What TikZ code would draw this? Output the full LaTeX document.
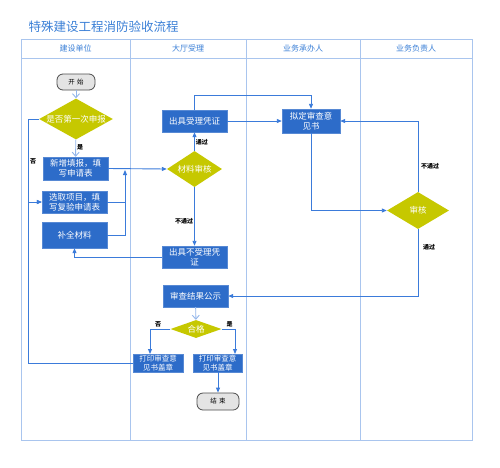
\documentclass[tikz,border=0pt]{standalone}
\usepackage{fontspec}
\setmainfont{Noto Sans CJK SC}
\usetikzlibrary{shapes.geometric,arrows.meta}
\definecolor{boxblue}{HTML}{2D6CC9}
\definecolor{linkblue}{HTML}{3B7BDA}
\definecolor{lanelin}{HTML}{A9C5EE}
\definecolor{dia}{HTML}{C6C800}
\definecolor{titleblue}{HTML}{3A7FD6}
\definecolor{termfill}{HTML}{E4E4E4}
\tikzset{
  x=1pt,y=-1pt,
  procbox/.style={draw=boxblue!80!white,fill=boxblue,text=white,minimum width=#1,font=\fontsize{8.5}{10}\selectfont,align=center,inner sep=1pt},
  procbox/.default=65,
  decide/.style={diamond,fill=dia,text=white,font=\fontsize{8.5}{10}\selectfont,inner sep=0pt,aspect=1.8},
  term/.style={rounded corners=6pt,draw=black!70,line width=0.8pt,fill=termfill,font=\fontsize{6.5}{8}\selectfont,minimum width=38,minimum height=16,inner sep=0pt},
  link/.style={draw=linkblue,line width=0.9pt,-{Triangle[length=5pt,width=4pt]}},
  plain/.style={draw=linkblue,line width=0.9pt},
  softlink/.style={draw=lanelin!80!linkblue,line width=0.9pt,-{Straight Barb[length=4pt,width=7pt]}},
  lab/.style={font=\fontsize{6}{7}\selectfont\bfseries,text=black,inner sep=1pt},
  lane/.style={draw=lanelin,line width=1pt},
  head/.style={font=\fontsize{8}{9}\selectfont,text=titleblue}
}
\begin{document}
\begin{tikzpicture}
\useasboundingbox (0,0) rectangle (500,467);
% title
\node[anchor=west,font=\fontsize{12.5}{14}\selectfont,text=titleblue] (title) at (25,27) {特殊建设工程消防验收流程};
% pool
\draw[lane] (21,39) rectangle (472,440);
\draw[lane] (21,58) -- (472,58);
\draw[lane] (130,39) -- (130,440);
\draw[lane] (246,39) -- (246,440);
\draw[lane] (360,39) -- (360,440);
\node[head] (h1) at (75.5,48.5) {建设单位};
\node[head] (h2) at (188,48.5) {大厅受理};
\node[head] (h3) at (303,48.5) {业务承办人};
\node[head] (h4) at (416,48.5) {业务负责人};
% nodes
\node[term] (start) at (76,82) {开\,\,始};
\node[decide,minimum width=67,minimum height=36] (d1) at (76,119) {是否第一次申报};
\node[procbox,minimum height=23] (xz) at (75.5,168.5) {新增填报，填\\写申请表};
\node[procbox,minimum height=22] (xq) at (74.5,202) {选取项目，填\\写复验申请表};
\node[procbox,minimum height=26] (bq) at (74.5,235) {补全材料};
\node[procbox,minimum height=22] (slpz) at (194.5,121) {出具受理凭证};
\node[decide,minimum width=55,minimum height=36] (clsh) at (194.5,169) {材料审核};
\node[procbox,minimum height=22] (bsl) at (194.5,257) {出具不受理凭\\证};
\node[procbox,minimum height=22] (gs) at (195.5,296) {审查结果公示};
\node[decide,minimum width=51,minimum height=18] (hg) at (196,329) {合格};
\node[procbox=50,minimum height=18,font=\fontsize{7.5}{8.5}\selectfont,inner sep=0pt] (dyl) at (158,363) {打印审查意\\见书盖章};
\node[procbox=49,minimum height=18,font=\fontsize{7.5}{8.5}\selectfont,inner sep=0pt] (dyr) at (217.5,363) {打印审查意\\见书盖章};
\node[term,minimum width=42,minimum height=17] (end) at (218,401.5) {结\,\,束};
\node[procbox=58,minimum height=24] (nd) at (311,121) {拟定审查意\\见书};
\node[decide,minimum width=62,minimum height=37] (sh) at (418,210.5) {审核};
% connectors
\draw[softlink] (start) -- (d1);
\draw[softlink] (d1) -- node[lab,right,pos=0.45] (lshi) {是} (xz);
\coordinate (cl) at (28,119);
\draw[link] (d1.west) -- (cl) |- (xq.west);
\node[lab] (lfou) at (33,161) {否};
\draw[link] (dyl.west) -| (cl |- xq.west) -- (xq.west);
\draw[link] (xz.east) -- (clsh.west);
\coordinate (cj) at (125,235);
\draw[link] (bq.east) -- (cj) -- (125,170);
\draw[plain] (xq.east) -- (cj |- xq.east);
\draw[link] (clsh.north) -- node[lab,right,pos=0.45] (ltg) {通过} (slpz.south);
\draw[link] (clsh.south) -- node[lab,left,pos=0.58] (lbtg) {不通过} (bsl.north);
\draw[link] (bsl.west) -| (bq.south);
\draw[link] (slpz.east) -- (nd.west);
\draw[link] (slpz.north) -- (194.5,95) -| (nd.north);
\draw[link] (nd.south) |- (sh.west);
\draw[link] (sh.north) |- (nd.east);
\node[lab] (lbtg2) at (430,166) {不通过};
\draw[link] (sh.south) |- (gs.east);
\node[lab] (ltg2) at (429,247) {通过};
\draw[softlink] (gs) -- (hg);
\draw[link] (hg.west) -| node[lab,above,pos=0.3] (lfou2) {否} (150,354);
\draw[link] (hg.east) -| node[lab,above,pos=0.3] (lshi2) {是} (235,354);
\draw[link] (dyr.south -| end.north) -- (end.north);
\end{tikzpicture}
\end{document}
